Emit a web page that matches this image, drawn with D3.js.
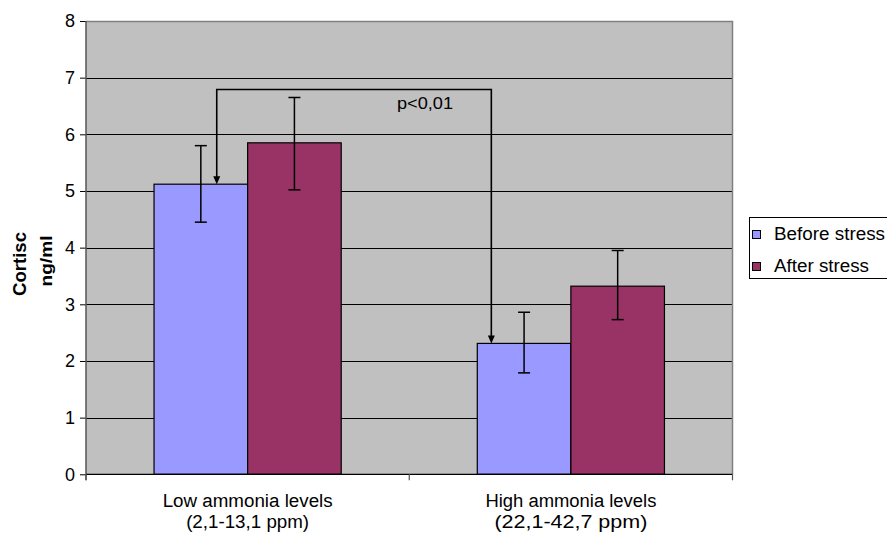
<!DOCTYPE html>
<html>
<head>
<meta charset="utf-8">
<script src="https://cdn.jsdelivr.net/npm/d3@7"></script>
<style>
  html, body { margin: 0; padding: 0; background: #ffffff; }
  svg { display: block; font-family: "Liberation Sans", Arial, sans-serif; }
</style>
</head>
<body>
<svg id="chart" width="887" height="534"></svg>
<script>
// ---- data ----
const categories = ["Low ammonia levels", "High ammonia levels"];
const categorySub = ["(2,1-13,1 ppm)", "(22,1-42,7 ppm)"];
const series = ["Before stress", "After stress"];
const beforeValues = [5.12, 2.31];
const afterValues = [5.85, 3.32];
const beforeErrLow = [4.45, 1.79];
const beforeErrHigh = [5.80, 2.86];
const afterErrLow = [5.02, 2.73];
const afterErrHigh = [6.65, 3.95];
const yTicks = [0, 1, 2, 3, 4, 5, 6, 7, 8];
const colors = ["#9999FF", "#993366"];
const pLabel = "p<0,01";
const bracketLevel = 6.79;

// ---- layout ----
const svg = d3.select("#chart");
const plot = { left: 86, right: 732.5, top: 21, bottom: 474.3 };

const x = d3.scaleBand().domain(categories).range([plot.left, plot.right]).paddingInner(0).paddingOuter(0);
const xs = d3.scaleBand().domain(series).range([0, x.bandwidth()]).paddingInner(0).paddingOuter(0.727);
const y = d3.scaleLinear().domain([0, 8]).range([plot.bottom, plot.top]);

const rows = [];
categories.forEach((c, i) => {
  rows.push({ cat: c, s: series[0], v: beforeValues[i], lo: beforeErrLow[i], hi: beforeErrHigh[i], col: colors[0] });
  rows.push({ cat: c, s: series[1], v: afterValues[i], lo: afterErrLow[i], hi: afterErrHigh[i], col: colors[1] });
});

// plot background
svg.append("rect")
  .attr("x", plot.left).attr("y", plot.top)
  .attr("width", plot.right - plot.left).attr("height", plot.bottom - plot.top)
  .attr("fill", "#C0C0C0");

// gridlines
svg.append("g").selectAll("line").data(yTicks.filter(t => t > 0 && t < 8)).join("line")
  .attr("x1", plot.left).attr("x2", plot.right)
  .attr("y1", d => Math.round(y(d)) + 0.5).attr("y2", d => Math.round(y(d)) + 0.5)
  .attr("stroke", "#000").attr("stroke-width", 1);

// plot border (top/right gray)
svg.append("path")
  .attr("d", `M${plot.left},${plot.top + 0.5}H${plot.right}V${plot.bottom}`)
  .attr("fill", "none").attr("stroke", "#808080").attr("stroke-width", 1.5);

// bars
svg.append("g").selectAll("rect").data(rows).join("rect")
  .attr("x", d => x(d.cat) + xs(d.s))
  .attr("y", d => y(d.v))
  .attr("width", xs.bandwidth())
  .attr("height", d => y(0) - y(d.v))
  .attr("fill", d => d.col)
  .attr("stroke", "#000").attr("stroke-width", 1.2);

// error bars
const eg = svg.append("g").attr("stroke", "#000").attr("stroke-width", 1.5);
rows.forEach(d => {
  const cx = x(d.cat) + xs(d.s) + xs.bandwidth() / 2;
  eg.append("line").attr("x1", cx).attr("x2", cx).attr("y1", y(d.hi)).attr("y2", y(d.lo));
  eg.append("line").attr("x1", cx - 6).attr("x2", cx + 6).attr("y1", y(d.hi)).attr("y2", y(d.hi));
  eg.append("line").attr("x1", cx - 6).attr("x2", cx + 6).attr("y1", y(d.lo)).attr("y2", y(d.lo));
});

// y axis
const yAxis = d3.axisLeft(y).tickValues(yTicks).tickSize(6).tickPadding(5).tickFormat(d3.format("d"));
const yg = svg.append("g").attr("transform", `translate(${plot.left},0)`).call(yAxis);
yg.select(".domain").remove();
yg.selectAll(".tick line").attr("stroke", "#000");
yg.selectAll(".tick text").attr("font-size", 18).attr("fill", "#000")
  .attr("font-family", "'Liberation Sans', Arial, sans-serif");
svg.append("line").attr("x1", plot.left).attr("x2", plot.left)
  .attr("y1", plot.top).attr("y2", plot.bottom + 6)
  .attr("stroke", "#555").attr("stroke-width", 1.5);

// x axis line + ticks at boundaries
svg.append("line").attr("x1", plot.left).attr("x2", plot.right)
  .attr("y1", plot.bottom).attr("y2", plot.bottom)
  .attr("stroke", "#000").attr("stroke-width", 1.2);
const bounds = categories.map(c => x(c)).concat([x(categories[categories.length - 1]) + x.bandwidth()]);
svg.append("g").selectAll("line").data(bounds).join("line")
  .attr("x1", d => d).attr("x2", d => d)
  .attr("y1", plot.bottom).attr("y2", plot.bottom + 6)
  .attr("stroke", "#555").attr("stroke-width", 1.2);

// x labels
const widths1 = [170, 171], widths2 = [123, 153];
categories.forEach((c, i) => {
  const cx = x(c) + x.bandwidth() / 2;
  svg.append("text").attr("x", cx).attr("y", 507).attr("text-anchor", "middle")
    .attr("font-size", 18).attr("textLength", widths1[i]).attr("lengthAdjust", "spacingAndGlyphs")
    .text(c);
  svg.append("text").attr("x", cx).attr("y", 528).attr("text-anchor", "middle")
    .attr("font-size", 18).attr("textLength", widths2[i]).attr("lengthAdjust", "spacingAndGlyphs")
    .text(categorySub[i]);
});

// y axis title (rotated, two lines)
svg.append("text").attr("transform", "translate(25.5,264) rotate(-90)")
  .attr("text-anchor", "middle").attr("font-size", 19).attr("font-weight", "bold")
  .attr("textLength", 64).attr("lengthAdjust", "spacingAndGlyphs").text("Cortisc");
svg.append("text").attr("transform", "translate(52,261) rotate(-90)")
  .attr("text-anchor", "middle").attr("font-size", 17).attr("font-weight", "bold")
  .attr("textLength", 51).attr("lengthAdjust", "spacingAndGlyphs").text("ng/ml");

// significance bracket
const xL = x(categories[0]) + xs(series[0]) + xs.bandwidth() * 0.67;
const xR = x(categories[1]) + xs(series[0]) + xs.bandwidth() * 0.15;
const yB = y(bracketLevel);
const tipL = y(beforeValues[0]);
const tipR = y(beforeValues[1]);
svg.append("path")
  .attr("d", `M${xL},${tipL - 6}V${yB}H${xR}V${tipR - 6}`)
  .attr("fill", "none").attr("stroke", "#000").attr("stroke-width", 1.6);
[[xL, tipL], [xR, tipR]].forEach(([ax, ay]) => {
  svg.append("path")
    .attr("d", `M${ax - 3.5},${ay - 8}L${ax + 3.5},${ay - 8}L${ax},${ay}Z`)
    .attr("fill", "#000");
});
svg.append("text").attr("x", 397).attr("y", 109).attr("font-size", 17)
  .attr("textLength", 56).attr("lengthAdjust", "spacingAndGlyphs").text(pLabel);

// legend
const lg = svg.append("g");
lg.append("rect").attr("x", 749.5).attr("y", 217.5).attr("width", 150).attr("height", 61)
  .attr("fill", "#fff").attr("stroke", "#000").attr("stroke-width", 1);
series.forEach((s, i) => {
  const yy = 230 + i * 32;
  lg.append("rect").attr("x", 752.5).attr("y", yy + 0.5).attr("width", 8).attr("height", 8)
    .attr("fill", colors[i]).attr("stroke", "#000").attr("stroke-width", 1);
  lg.append("text").attr("x", 774).attr("y", yy + 10).attr("font-size", 18)
    .attr("textLength", i === 0 ? 111 : 95).attr("lengthAdjust", "spacingAndGlyphs").text(s);
});
</script>
</body>
</html>
